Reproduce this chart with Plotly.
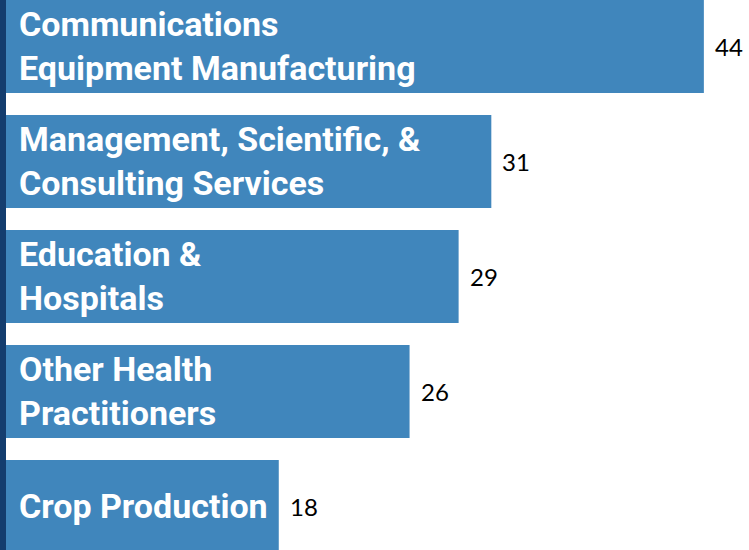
import plotly.graph_objects as go

categories = [
    "Communications<br>Equipment Manufacturing",
    "Management, Scientific, &<br>Consulting Services",
    "Education &<br>Hospitals",
    "Other Health<br>Practitioners",
    "Crop Production",
]
values = [44, 31, 29, 26, 18]
value_labels = ["44", "31", "29", "26", "18"]

bar_color = "#4086bc"
dark = "#143d6e"
positions = list(range(len(categories)))

fig = go.Figure()
fig.add_trace(go.Bar(
    x=values, y=positions, orientation="h",
    marker=dict(color=bar_color, line=dict(width=0)),
    hoverinfo="skip",
))

for p, cat, v, lab in zip(positions, categories, values, value_labels):
    fig.add_annotation(
        x=17 / 749, xref="paper", y=p, yref="y",
        text=cat, showarrow=False, xanchor="left", yanchor="middle", align="left",
        yshift=1,
        font=dict(family="Roboto, sans-serif", size=34, color="white", weight="bold"),
    )
    fig.add_annotation(
        x=v, xref="x", y=p, yref="y",
        text=lab, showarrow=False, xanchor="left", yanchor="middle", xshift=9,
        font=dict(family="Lato, sans-serif", size=24, color="black"),
    )

fig.add_shape(type="rect", xref="paper", yref="paper", x0=0, x1=6 / 749, y0=0, y1=1,
              fillcolor=dark, line=dict(width=0), layer="above")

fig.update_layout(
    width=749, height=550,
    margin=dict(l=0, r=0, t=0, b=0),
    paper_bgcolor="white", plot_bgcolor="white",
    bargap=0.19, showlegend=False,
    xaxis=dict(range=[0.95, 0.95 + 749 / 16.35], visible=False, fixedrange=True),
    yaxis=dict(range=[(550 - 46.5) / 115, -46.5 / 115], visible=False, fixedrange=True),
)

fig.write_html(
    "out.html",
    config={"displayModeBar": False, "staticPlot": True},
    post_script="document.body.style.margin='0';document.body.style.overflow='hidden';",
)
